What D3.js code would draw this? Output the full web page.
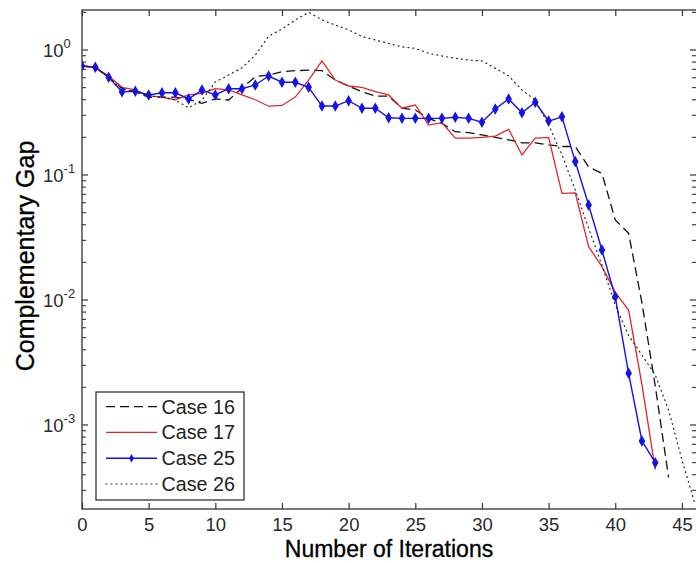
<!DOCTYPE html>
<html>
<head>
<meta charset="utf-8">
<script src="https://cdn.jsdelivr.net/npm/d3@7"></script>
<style>
  html, body { margin: 0; padding: 0; background: #fff; }
  svg { display: block; font-family: "Liberation Sans", Arial, sans-serif; }
</style>
</head>
<body>
<svg id="chart" width="696" height="563"></svg>
<script>
// Complementary gap per interior-point iteration, one array per test case
const case16 = [0.745, 0.727, 0.60, 0.494, 0.464, 0.418, 0.42, 0.42, 0.403, 0.374,
  0.406, 0.398, 0.494, 0.612, 0.631, 0.67, 0.683, 0.69, 0.683, 0.575,
  0.515, 0.464, 0.428, 0.428, 0.342, 0.331, 0.284, 0.259, 0.222, 0.218,
  0.209, 0.20, 0.191, 0.181, 0.181, 0.174, 0.169, 0.169, 0.116, 0.103,
  0.0437, 0.0342, 0.0095, 0.00205, 0.00038];
const case17 = [0.745, 0.727, 0.62, 0.503, 0.479, 0.43, 0.42, 0.40, 0.437, 0.45,
  0.49, 0.48, 0.437, 0.40, 0.355, 0.36, 0.42, 0.575, 0.817, 0.575,
  0.515, 0.503, 0.464, 0.437, 0.342, 0.363, 0.251, 0.262, 0.197, 0.197,
  0.20, 0.205, 0.232, 0.145, 0.197, 0.20, 0.0714, 0.072, 0.0267, 0.0185,
  0.0115, 0.0083, 0.0021, 0.00044];
const case25 = [0.745, 0.727, 0.605, 0.464, 0.467, 0.437, 0.455, 0.455, 0.406, 0.479,
  0.437, 0.49, 0.49, 0.525, 0.619, 0.552, 0.552, 0.503, 0.356, 0.356,
  0.393, 0.342, 0.342, 0.287, 0.284, 0.284, 0.284, 0.284, 0.29, 0.284,
  0.264, 0.337, 0.406, 0.315, 0.382, 0.27, 0.292, 0.128, 0.0575, 0.0251,
  0.0106, 0.00259, 0.000745, 0.000499];
const case26 = [0.745, 0.727, 0.60, 0.49, 0.46, 0.43, 0.42, 0.398, 0.344, 0.398,
  0.555, 0.63, 0.72, 0.91, 1.29, 1.47, 1.74, 2.0, 1.74, 1.58,
  1.45, 1.28, 1.2, 1.13, 1.06, 1.03, 0.94, 0.895, 0.858, 0.832,
  0.817, 0.714, 0.62, 0.479, 0.398, 0.251, 0.145, 0.076, 0.0375, 0.019,
  0.0091, 0.0052, 0.00363, 0.00251, 0.00132, 0.000525, 0.000229];

const seriesNames = ["Case 16", "Case 17", "Case 25", "Case 26"];
const xTicks = [0, 5, 10, 15, 20, 25, 30, 35, 40, 45];
const yTickExponents = [0, -1, -2, -3];

const series = [
  { name: seriesNames[0], values: case16, color: "#111", dash: "9,5", width: 1.3, marker: false, dotted: false },
  { name: seriesNames[1], values: case17, color: "#e0262b", dash: null, width: 1.3, marker: false, dotted: false },
  { name: seriesNames[2], values: case25, color: "#1414e6", dash: null, width: 1.4, marker: true, dotted: false },
  { name: seriesNames[3], values: case26, color: "#222", dash: "1,4", width: 1.2, marker: false, dotted: true }
];

const svg = d3.select("#chart");
const plotL = 82, plotR = 699, plotT = 10, plotB = 509;

const x = d3.scaleLinear().domain([0, 46.28]).range([plotL, plotR]);
const y = d3.scaleLog().domain([2.128e-4, 2.089]).range([plotB, plotT]);

svg.append("rect").attr("x", 0).attr("y", 0).attr("width", 696).attr("height", 563).attr("fill", "#fff");

svg.append("defs").append("clipPath").attr("id", "plotClip")
  .append("rect").attr("x", plotL).attr("y", plotT).attr("width", plotR - plotL).attr("height", plotB - plotT);

const axisColor = "#333";
const tickColor = "#333";

// frame
svg.append("rect").attr("x", plotL).attr("y", plotT)
  .attr("width", plotR - plotL).attr("height", plotB - plotT)
  .attr("fill", "none").attr("stroke", axisColor).attr("stroke-width", 1.3);

// x ticks (inside, bottom and top) and labels
const xAxisB = d3.axisBottom(x).tickValues(xTicks).tickSizeInner(-6).tickSizeOuter(0).tickFormat(d3.format("d"));
const gxb = svg.append("g").attr("transform", `translate(0,${plotB})`).call(xAxisB);
gxb.select(".domain").remove();
gxb.selectAll(".tick line").attr("stroke", tickColor).attr("stroke-width", 1.2);
gxb.selectAll(".tick text").attr("fill", "#2a2a2a").attr("font-size", 18.5)
  .attr("font-family", "'Liberation Sans', Arial, sans-serif").attr("dy", "0.35em").attr("y", 16);

const xAxisT = d3.axisTop(x).tickValues(xTicks).tickSizeInner(-6).tickSizeOuter(0).tickFormat("");
const gxt = svg.append("g").attr("transform", `translate(0,${plotT})`).call(xAxisT);
gxt.select(".domain").remove();
gxt.selectAll(".tick line").attr("stroke", tickColor).attr("stroke-width", 1.2);

// y ticks: majors at decades, minors at 2..9 x decade
const minorVals = [];
for (let e = -4; e <= 0; e++) {
  for (let m = 2; m <= 9; m++) {
    const v = m * Math.pow(10, e);
    if (v >= y.domain()[0] && v <= y.domain()[1]) minorVals.push(v);
  }
}
const majorVals = yTickExponents.map(e => Math.pow(10, e));

function yTicks(xPos, dir, majorLen, minorLen) {
  const g = svg.append("g");
  g.selectAll("line.major").data(majorVals).join("line").attr("class", "major")
    .attr("x1", xPos).attr("x2", xPos + dir * majorLen)
    .attr("y1", d => y(d)).attr("y2", d => y(d))
    .attr("stroke", tickColor).attr("stroke-width", 1.2);
  g.selectAll("line.minor").data(minorVals).join("line").attr("class", "minor")
    .attr("x1", xPos).attr("x2", xPos + dir * minorLen)
    .attr("y1", d => y(d)).attr("y2", d => y(d))
    .attr("stroke", tickColor).attr("stroke-width", 1.1);
}
yTicks(plotL, 1, 6, 4);
yTicks(plotR, -1, 9, 7);

// y tick labels as 10 with superscript exponent
const ylab = svg.append("g").attr("fill", "#2a2a2a").attr("font-size", 18.5);
yTickExponents.forEach(e => {
  const t = ylab.append("text").attr("x", 43).attr("y", y(Math.pow(10, e)) + 7);
  t.append("tspan").text("10");
  t.append("tspan").attr("font-size", 13).attr("dy", -9).text(String(e));
});

// series lines
const line = d3.line().x((d, i) => x(i)).y(d => y(d));
const plot = svg.append("g").attr("clip-path", "url(#plotClip)");
series.forEach(s => {
  plot.append("path").datum(s.values)
    .attr("d", line)
    .attr("fill", "none")
    .attr("stroke", s.color)
    .attr("stroke-width", s.width)
    .attr("stroke-dasharray", s.dash)
    .attr("stroke-linecap", s.dotted ? "round" : "butt");
  if (s.marker) {
    plot.selectAll(null).data(s.values).join("path")
      .attr("transform", (d, i) => `translate(${x(i)},${y(d)})`)
      .attr("d", d3.symbol().type(d3.symbolDiamond).size(38))
      .attr("fill", s.color);
  }
});

// axis titles
svg.append("text").attr("x", 389).attr("y", 557)
  .attr("text-anchor", "middle").attr("font-size", 23)
  .attr("fill", "#000").attr("stroke", "#000").attr("stroke-width", 0.3)
  .text("Number of Iterations");
svg.append("text").attr("transform", `translate(34,256) rotate(-90)`)
  .attr("text-anchor", "middle").attr("font-size", 25)
  .attr("fill", "#000").attr("stroke", "#000").attr("stroke-width", 0.3)
  .text("Complementary Gap");

// legend
const lg = svg.append("g");
lg.append("rect").attr("x", 96).attr("y", 392).attr("width", 148).attr("height", 108)
  .attr("fill", "#fff").attr("stroke", axisColor).attr("stroke-width", 1.3);
const rowY = d3.scalePoint().domain(seriesNames).range([406.7, 484]);
series.forEach(s => {
  const yy = rowY(s.name);
  lg.append("line").attr("x1", 106).attr("x2", 157).attr("y1", yy).attr("y2", yy)
    .attr("stroke", s.color).attr("stroke-width", s.width)
    .attr("stroke-dasharray", s.dash)
    .attr("stroke-linecap", s.dotted ? "round" : "butt");
  if (s.marker) {
    lg.append("path").attr("transform", `translate(131.5,${yy})`)
      .attr("d", d3.symbol().type(d3.symbolDiamond).size(20)).attr("fill", s.color);
  }
  lg.append("text").attr("x", 161.5).attr("y", yy + 7).attr("font-size", 19.7)
    .attr("fill", "#222").text(s.name);
});
</script>
</body>
</html>
